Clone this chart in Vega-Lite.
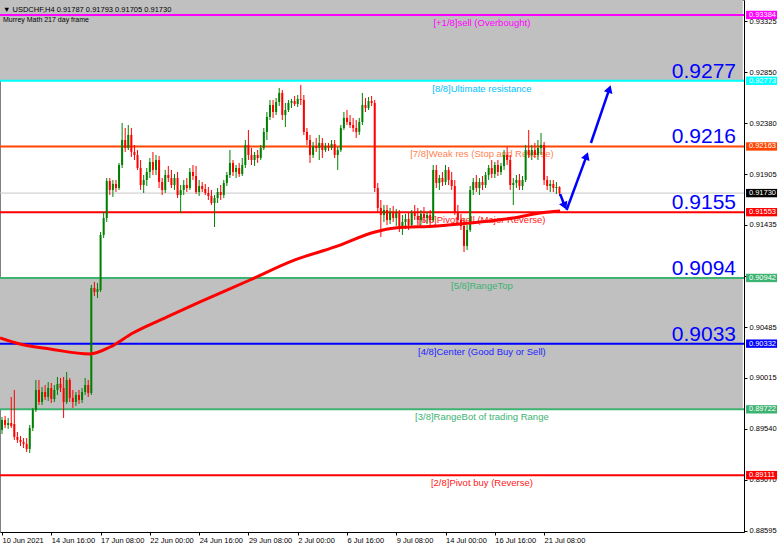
{
"$schema": "https://vega.github.io/schema/vega-lite/v6.json",
"width": 744, "height": 532, "autosize": "none", "padding": {"left": 0, "top": 0, "right": 38, "bottom": 18}, "background": "#ffffff",
"config": {"view": {"stroke": "#808080", "strokeWidth": 1}, "font": "Liberation Sans"},
"title": {"text": "▼ USDCHF,H4  0.91787 0.91793 0.91705 0.91730", "subtitle": "Murrey Math 217 day frame", "anchor": "start", "frame": "group", "orient": "top", "offset": -23, "fontSize": 7.5, "fontWeight": "normal", "color": "#000000", "subtitleFontSize": 7, "subtitleColor": "#000000", "subtitlePadding": 3, "dx": 3},
"datasets": {
"bands": [{"lo": 0.92773, "hi": 0.9353}, {"lo": 0.89722, "hi": 0.90942}],
"levels": [
{"lvl": "+1/8", "v": 0.93384, "t": "[+1/8]sell (Overbought)"},
{"lvl": "8/8", "v": 0.92773, "t": "[8/8]Ultimate resistance"},
{"lvl": "7/8", "v": 0.92163, "t": "[7/8]Weak res (Stop and Reverse)"},
{"lvl": "6/8", "v": 0.91553, "t": "[6/8]Pivot sell (Major Reverse)"},
{"lvl": "5/8", "v": 0.90942, "t": "[5/8]RangeTop"},
{"lvl": "4/8", "v": 0.90332, "t": "[4/8]Center (Good Buy or Sell)"},
{"lvl": "3/8", "v": 0.89722, "t": "[3/8]RangeBot of trading Range"},
{"lvl": "2/8", "v": 0.89111, "t": "[2/8]Pivot buy (Reverse)"},
{"lvl": "cur", "v": 0.9173, "t": ""}],
"bignums": [{"v": 0.92773, "t": "0.9277"}, {"v": 0.92163, "t": "0.9216"}, {"v": 0.91553, "t": "0.9155"}, {"v": 0.90942, "t": "0.9094"}, {"v": 0.90332, "t": "0.9033"}],
"ma": [{"i": -0.65, "p": 0.90385}, {"i": 5.8, "p": 0.90329}, {"i": 15.6, "p": 0.90282}, {"i": 28.6, "p": 0.90236}, {"i": 35.1, "p": 0.90301}, {"i": 42.5, "p": 0.90431}, {"i": 53.6, "p": 0.9058}, {"i": 64.3, "p": 0.90719}, {"i": 80.5, "p": 0.90923}, {"i": 95.1, "p": 0.91109}, {"i": 108.1, "p": 0.9123}, {"i": 121.1, "p": 0.91369}, {"i": 127.6, "p": 0.91406}, {"i": 141.2, "p": 0.91425}, {"i": 151.9, "p": 0.91453}, {"i": 165.9, "p": 0.91499}, {"i": 174.7, "p": 0.91545}, {"i": 181.2, "p": 0.91564}],
"arrows": [{"seg": 1, "i": 181.2, "p": 0.91722}, {"seg": 1, "i": 182.7, "p": 0.9161}, {"seg": 2, "i": 183.3, "p": 0.91573}, {"seg": 2, "i": 189.8, "p": 0.92075}, {"seg": 3, "i": 191.2, "p": 0.92195}, {"seg": 3, "i": 197.2, "p": 0.92697}],
"heads": [{"seg": 1, "i": 182.7, "p": 0.9161}, {"seg": 2, "i": 189.8, "p": 0.92075}, {"seg": 3, "i": 197.2, "p": 0.92697}],
"candles": [
{"i":0,"o":0.89531,"h":0.89651,"l":0.89493,"c":0.89623},
{"i":1,"o":0.89623,"h":0.89661,"l":0.89549,"c":0.89577},
{"i":2,"o":0.89577,"h":0.89642,"l":0.8954,"c":0.89595},
{"i":3,"o":0.89595,"h":0.89837,"l":0.89549,"c":0.89568},
{"i":4,"o":0.89586,"h":0.89902,"l":0.89438,"c":0.89466},
{"i":5,"o":0.89466,"h":0.89512,"l":0.8941,"c":0.89438},
{"i":6,"o":0.89438,"h":0.89475,"l":0.89382,"c":0.89419},
{"i":7,"o":0.89419,"h":0.89456,"l":0.89363,"c":0.89401},
{"i":8,"o":0.89401,"h":0.89456,"l":0.89326,"c":0.89354},
{"i":9,"o":0.89354,"h":0.89577,"l":0.89317,"c":0.89549},
{"i":10,"o":0.89549,"h":0.89735,"l":0.89521,"c":0.89716},
{"i":11,"o":0.89716,"h":0.89995,"l":0.89698,"c":0.89902},
{"i":12,"o":0.89902,"h":0.89995,"l":0.89763,"c":0.8979},
{"i":13,"o":0.8979,"h":0.8993,"l":0.89763,"c":0.89883},
{"i":14,"o":0.89883,"h":0.89948,"l":0.89809,"c":0.89837},
{"i":15,"o":0.89837,"h":0.89976,"l":0.898,"c":0.8992},
{"i":16,"o":0.8992,"h":0.89967,"l":0.89781,"c":0.89818},
{"i":17,"o":0.89818,"h":0.89948,"l":0.8979,"c":0.89902},
{"i":18,"o":0.89902,"h":0.90023,"l":0.89855,"c":0.89958},
{"i":19,"o":0.89958,"h":0.90013,"l":0.89883,"c":0.8992},
{"i":20,"o":0.8992,"h":0.90023,"l":0.89642,"c":0.8979},
{"i":21,"o":0.8979,"h":0.90069,"l":0.89772,"c":0.89995},
{"i":22,"o":0.89995,"h":0.90013,"l":0.8979,"c":0.89828},
{"i":23,"o":0.89828,"h":0.89902,"l":0.89735,"c":0.8979},
{"i":24,"o":0.8979,"h":0.89883,"l":0.89753,"c":0.89855},
{"i":25,"o":0.89855,"h":0.89902,"l":0.89772,"c":0.89809},
{"i":26,"o":0.89809,"h":0.8992,"l":0.89781,"c":0.89883},
{"i":27,"o":0.89883,"h":0.90013,"l":0.89855,"c":0.89948},
{"i":28,"o":0.89948,"h":0.89995,"l":0.89837,"c":0.89874},
{"i":29,"o":0.89874,"h":0.90877,"l":0.89855,"c":0.90849},
{"i":30,"o":0.90849,"h":0.90905,"l":0.90775,"c":0.90812},
{"i":31,"o":0.90812,"h":0.90895,"l":0.90756,"c":0.9084},
{"i":32,"o":0.9083,"h":0.91369,"l":0.90812,"c":0.91341},
{"i":33,"o":0.91341,"h":0.91555,"l":0.91313,"c":0.91499},
{"i":34,"o":0.91499,"h":0.9187,"l":0.91462,"c":0.91842},
{"i":35,"o":0.91842,"h":0.9187,"l":0.91712,"c":0.91759},
{"i":36,"o":0.91759,"h":0.91852,"l":0.91694,"c":0.91815},
{"i":37,"o":0.91815,"h":0.91852,"l":0.9174,"c":0.91777},
{"i":38,"o":0.91777,"h":0.9201,"l":0.91759,"c":0.91991},
{"i":39,"o":0.91991,"h":0.92381,"l":0.91963,"c":0.92223},
{"i":40,"o":0.92223,"h":0.92335,"l":0.92112,"c":0.92149},
{"i":41,"o":0.92149,"h":0.92362,"l":0.9213,"c":0.9227},
{"i":42,"o":0.9227,"h":0.92335,"l":0.92065,"c":0.92112},
{"i":43,"o":0.92112,"h":0.92177,"l":0.92037,"c":0.92084},
{"i":44,"o":0.92084,"h":0.9213,"l":0.91945,"c":0.91963},
{"i":45,"o":0.91963,"h":0.92037,"l":0.91759,"c":0.91805},
{"i":46,"o":0.91805,"h":0.91898,"l":0.91731,"c":0.91852},
{"i":47,"o":0.91852,"h":0.91963,"l":0.91796,"c":0.91926},
{"i":48,"o":0.91926,"h":0.92056,"l":0.9187,"c":0.92019},
{"i":49,"o":0.92019,"h":0.92112,"l":0.91898,"c":0.91945},
{"i":50,"o":0.91945,"h":0.92084,"l":0.91898,"c":0.92037},
{"i":51,"o":0.92037,"h":0.92075,"l":0.91777,"c":0.91833},
{"i":52,"o":0.91833,"h":0.9187,"l":0.91712,"c":0.91759},
{"i":53,"o":0.91759,"h":0.91945,"l":0.91731,"c":0.91898},
{"i":54,"o":0.91898,"h":0.91982,"l":0.91833,"c":0.9187},
{"i":55,"o":0.9187,"h":0.91945,"l":0.91777,"c":0.91805},
{"i":56,"o":0.91805,"h":0.91907,"l":0.91759,"c":0.9187},
{"i":57,"o":0.9187,"h":0.91926,"l":0.91684,"c":0.91712},
{"i":58,"o":0.91712,"h":0.91805,"l":0.91545,"c":0.91759},
{"i":59,"o":0.91759,"h":0.91852,"l":0.91712,"c":0.91805},
{"i":60,"o":0.91805,"h":0.9187,"l":0.9174,"c":0.91777},
{"i":61,"o":0.91777,"h":0.91963,"l":0.91759,"c":0.91926},
{"i":62,"o":0.91926,"h":0.91991,"l":0.91852,"c":0.91889},
{"i":63,"o":0.91889,"h":0.91982,"l":0.91722,"c":0.9174},
{"i":64,"o":0.9174,"h":0.91852,"l":0.91703,"c":0.91796},
{"i":65,"o":0.91796,"h":0.91833,"l":0.9174,"c":0.91768},
{"i":66,"o":0.91768,"h":0.91815,"l":0.91712,"c":0.91731},
{"i":67,"o":0.91731,"h":0.91787,"l":0.91666,"c":0.91703},
{"i":68,"o":0.91703,"h":0.91759,"l":0.9162,"c":0.91638},
{"i":69,"o":0.91638,"h":0.91712,"l":0.91415,"c":0.91684},
{"i":70,"o":0.91684,"h":0.91777,"l":0.91638,"c":0.9174},
{"i":71,"o":0.9174,"h":0.91805,"l":0.91666,"c":0.91712},
{"i":72,"o":0.91712,"h":0.91852,"l":0.91684,"c":0.91824},
{"i":73,"o":0.91824,"h":0.91926,"l":0.91796,"c":0.91898},
{"i":74,"o":0.91898,"h":0.9213,"l":0.9187,"c":0.9201},
{"i":75,"o":0.9201,"h":0.92037,"l":0.91889,"c":0.91926},
{"i":76,"o":0.91926,"h":0.91991,"l":0.9187,"c":0.91963},
{"i":77,"o":0.91963,"h":0.9201,"l":0.9188,"c":0.91907},
{"i":78,"o":0.91907,"h":0.92056,"l":0.91889,"c":0.91991},
{"i":79,"o":0.91991,"h":0.92223,"l":0.91963,"c":0.92177},
{"i":80,"o":0.92177,"h":0.92316,"l":0.92037,"c":0.92084},
{"i":81,"o":0.92084,"h":0.92149,"l":0.91991,"c":0.92037},
{"i":82,"o":0.92037,"h":0.92112,"l":0.91982,"c":0.92084},
{"i":83,"o":0.92084,"h":0.9213,"l":0.9201,"c":0.92056},
{"i":84,"o":0.92056,"h":0.92177,"l":0.92037,"c":0.92149},
{"i":85,"o":0.92149,"h":0.92335,"l":0.9213,"c":0.92298},
{"i":86,"o":0.92298,"h":0.92483,"l":0.92223,"c":0.92437},
{"i":87,"o":0.92437,"h":0.92595,"l":0.92409,"c":0.92548},
{"i":88,"o":0.92548,"h":0.92595,"l":0.92428,"c":0.92483},
{"i":89,"o":0.92483,"h":0.92613,"l":0.92455,"c":0.92576},
{"i":90,"o":0.92576,"h":0.92706,"l":0.92539,"c":0.9266},
{"i":91,"o":0.9266,"h":0.92687,"l":0.92409,"c":0.92455},
{"i":92,"o":0.92455,"h":0.92567,"l":0.92344,"c":0.92502},
{"i":93,"o":0.92502,"h":0.92595,"l":0.92483,"c":0.92567},
{"i":94,"o":0.92567,"h":0.92604,"l":0.9252,"c":0.92585},
{"i":95,"o":0.92585,"h":0.92632,"l":0.92539,"c":0.92557},
{"i":96,"o":0.92557,"h":0.92641,"l":0.92529,"c":0.92604},
{"i":97,"o":0.92604,"h":0.92734,"l":0.92548,"c":0.92595},
{"i":98,"o":0.92595,"h":0.92641,"l":0.9227,"c":0.92298},
{"i":99,"o":0.92298,"h":0.92335,"l":0.92177,"c":0.92223},
{"i":100,"o":0.92223,"h":0.9227,"l":0.9201,"c":0.92084},
{"i":101,"o":0.92084,"h":0.92205,"l":0.92056,"c":0.92168},
{"i":102,"o":0.92168,"h":0.92242,"l":0.92112,"c":0.92149},
{"i":103,"o":0.92149,"h":0.9227,"l":0.92037,"c":0.92195},
{"i":104,"o":0.92195,"h":0.92242,"l":0.92056,"c":0.9213},
{"i":105,"o":0.9213,"h":0.92195,"l":0.92112,"c":0.92168},
{"i":106,"o":0.92168,"h":0.92195,"l":0.92121,"c":0.92149},
{"i":107,"o":0.92149,"h":0.92223,"l":0.9213,"c":0.92186},
{"i":108,"o":0.92186,"h":0.92223,"l":0.92056,"c":0.92084},
{"i":109,"o":0.92084,"h":0.92158,"l":0.91945,"c":0.9213},
{"i":110,"o":0.9213,"h":0.92362,"l":0.92112,"c":0.92335},
{"i":111,"o":0.92335,"h":0.92483,"l":0.92316,"c":0.92428},
{"i":112,"o":0.92428,"h":0.92502,"l":0.92362,"c":0.9239},
{"i":113,"o":0.9239,"h":0.92455,"l":0.92335,"c":0.92362},
{"i":114,"o":0.92362,"h":0.92428,"l":0.92298,"c":0.92335},
{"i":115,"o":0.92335,"h":0.92409,"l":0.92242,"c":0.92298},
{"i":116,"o":0.92298,"h":0.92428,"l":0.9227,"c":0.9239},
{"i":117,"o":0.9239,"h":0.9266,"l":0.92362,"c":0.92548},
{"i":118,"o":0.92548,"h":0.92613,"l":0.92483,"c":0.9252},
{"i":119,"o":0.9252,"h":0.92622,"l":0.92502,"c":0.92585},
{"i":120,"o":0.92585,"h":0.92632,"l":0.92539,"c":0.92567},
{"i":121,"o":0.92567,"h":0.92595,"l":0.9174,"c":0.91777},
{"i":122,"o":0.91777,"h":0.91824,"l":0.91555,"c":0.91592},
{"i":123,"o":0.91592,"h":0.91666,"l":0.91323,"c":0.91527},
{"i":124,"o":0.91527,"h":0.9162,"l":0.91462,"c":0.91573},
{"i":125,"o":0.91573,"h":0.9162,"l":0.91434,"c":0.9148},
{"i":126,"o":0.9148,"h":0.91592,"l":0.91443,"c":0.91555},
{"i":127,"o":0.91555,"h":0.9161,"l":0.91462,"c":0.91499},
{"i":128,"o":0.91499,"h":0.91583,"l":0.91425,"c":0.91545},
{"i":129,"o":0.91545,"h":0.91573,"l":0.91369,"c":0.91425},
{"i":130,"o":0.91425,"h":0.91527,"l":0.91341,"c":0.91462},
{"i":131,"o":0.91462,"h":0.91536,"l":0.91397,"c":0.9149},
{"i":132,"o":0.9149,"h":0.91555,"l":0.91388,"c":0.91434},
{"i":133,"o":0.91434,"h":0.91573,"l":0.91406,"c":0.91545},
{"i":134,"o":0.91545,"h":0.9162,"l":0.9148,"c":0.91517},
{"i":135,"o":0.91517,"h":0.91592,"l":0.91434,"c":0.9148},
{"i":136,"o":0.9148,"h":0.91573,"l":0.91425,"c":0.91536},
{"i":137,"o":0.91536,"h":0.91601,"l":0.91462,"c":0.91499},
{"i":138,"o":0.91499,"h":0.91555,"l":0.91443,"c":0.91527},
{"i":139,"o":0.91527,"h":0.91573,"l":0.91434,"c":0.9148},
{"i":140,"o":0.9148,"h":0.91991,"l":0.91462,"c":0.91945},
{"i":141,"o":0.91945,"h":0.91991,"l":0.91777,"c":0.91824},
{"i":142,"o":0.91824,"h":0.91898,"l":0.91759,"c":0.9187},
{"i":143,"o":0.9187,"h":0.91926,"l":0.91796,"c":0.91833},
{"i":144,"o":0.91833,"h":0.91991,"l":0.91805,"c":0.91945},
{"i":145,"o":0.91945,"h":0.91972,"l":0.91805,"c":0.91852},
{"i":146,"o":0.91852,"h":0.91926,"l":0.91759,"c":0.91796},
{"i":147,"o":0.91796,"h":0.91852,"l":0.91527,"c":0.91555},
{"i":148,"o":0.91555,"h":0.9162,"l":0.91434,"c":0.9148},
{"i":149,"o":0.9148,"h":0.91536,"l":0.91388,"c":0.91425},
{"i":150,"o":0.91425,"h":0.91499,"l":0.91183,"c":0.91239},
{"i":151,"o":0.91239,"h":0.91434,"l":0.91202,"c":0.91388},
{"i":152,"o":0.91388,"h":0.91796,"l":0.91369,"c":0.91759},
{"i":153,"o":0.91759,"h":0.9187,"l":0.91712,"c":0.91833},
{"i":154,"o":0.91833,"h":0.91898,"l":0.9174,"c":0.91777},
{"i":155,"o":0.91777,"h":0.9187,"l":0.91712,"c":0.91833},
{"i":156,"o":0.91833,"h":0.91889,"l":0.91759,"c":0.91805},
{"i":157,"o":0.91805,"h":0.91926,"l":0.91777,"c":0.91898},
{"i":158,"o":0.91898,"h":0.91991,"l":0.91852,"c":0.91963},
{"i":159,"o":0.91963,"h":0.92037,"l":0.9187,"c":0.91907},
{"i":160,"o":0.91907,"h":0.92019,"l":0.9187,"c":0.91991},
{"i":161,"o":0.91991,"h":0.92037,"l":0.91889,"c":0.91926},
{"i":162,"o":0.91926,"h":0.9201,"l":0.91898,"c":0.91982},
{"i":163,"o":0.91982,"h":0.9213,"l":0.91945,"c":0.92084},
{"i":164,"o":0.92084,"h":0.92158,"l":0.91991,"c":0.92037},
{"i":165,"o":0.92037,"h":0.92084,"l":0.91759,"c":0.91805},
{"i":166,"o":0.91805,"h":0.9187,"l":0.9162,"c":0.91824},
{"i":167,"o":0.91824,"h":0.91898,"l":0.91777,"c":0.91852},
{"i":168,"o":0.91852,"h":0.91907,"l":0.91759,"c":0.91796},
{"i":169,"o":0.91796,"h":0.91889,"l":0.91759,"c":0.91852},
{"i":170,"o":0.91852,"h":0.92177,"l":0.91833,"c":0.9213},
{"i":171,"o":0.9213,"h":0.92316,"l":0.92056,"c":0.92084},
{"i":172,"o":0.92084,"h":0.92177,"l":0.92037,"c":0.9213},
{"i":173,"o":0.9213,"h":0.92195,"l":0.92056,"c":0.92084},
{"i":174,"o":0.92084,"h":0.92223,"l":0.92037,"c":0.92149},
{"i":175,"o":0.92149,"h":0.92288,"l":0.92084,"c":0.92177},
{"i":176,"o":0.92177,"h":0.92205,"l":0.91805,"c":0.91852},
{"i":177,"o":0.91852,"h":0.91889,"l":0.91759,"c":0.91796},
{"i":178,"o":0.91796,"h":0.91852,"l":0.9174,"c":0.91815},
{"i":179,"o":0.91815,"h":0.91852,"l":0.9174,"c":0.91777},
{"i":180,"o":0.91777,"h":0.91833,"l":0.91722,"c":0.91787},
{"i":181,"o":0.91787,"h":0.91793,"l":0.91705,"c":0.9173}
]},
"resolve": {"scale": {"color": "independent"}},
"layer": [
{"data": {"name": "candles"}, "mark": {"type": "rule", "strokeWidth": 1, "opacity": 0},
 "encoding": {
  "x": {"field": "i", "type": "quantitative", "scale": {"domain": [-0.65, 240.9], "nice": false, "zero": false, "padding": 0},
   "axis": {"values": [0,16,32,48,64,80,96,112,128,144,160,176], "labelExpr": "['10 Jun 2021','14 Jun 16:00','17 Jun 08:00','22 Jun 00:00','24 Jun 16:00','29 Jun 08:00','2 Jul 00:00','6 Jul 16:00','9 Jul 08:00','14 Jul 00:00','16 Jul 16:00','21 Jul 08:00'][round(datum.value/16)]", "labelAlign": "left", "labelBaseline": "top", "labelPadding": 1, "tickSize": 3, "labelFontSize": 7.5, "labelColor": "#000000", "tickColor": "#000000", "domainColor": "#000000", "grid": false, "title": null, "labelOverlap": false, "labelFlush": false}},
  "y": {"field": "l", "type": "quantitative", "scale": {"domain": [0.88583, 0.93523], "nice": false, "zero": false, "padding": 0},
   "axis": {"orient": "right", "values": [0.93325,0.93085,0.9285,0.92615,0.9238,0.92145,0.91905,0.9167,0.91435,0.91195,0.9096,0.90725,0.90485,0.9025,0.90015,0.8978,0.8954,0.89305,0.8907,0.88835,0.88595], "format": ".5f", "labelFontSize": 7.5, "labelColor": "#000000", "tickColor": "#000000", "domainColor": "#000000", "tickSize": 3, "labelPadding": 2, "grid": false, "title": null, "labelOverlap": false, "labelFlush": false}},
  "y2": {"field": "h"}}},
{"data": {"name": "bands"}, "mark": {"type": "rect", "color": "#c0c0c0", "clip": true},
 "encoding": {"x": {"datum": -0.65}, "x2": {"datum": 240.5}, "y": {"field": "lo", "type": "quantitative"}, "y2": {"field": "hi"}}},
{"data": {"name": "levels"}, "mark": {"type": "rule"},
 "encoding": {"y": {"field": "v", "type": "quantitative"},
  "strokeWidth": {"condition": {"test": "datum.lvl == 'cur'", "value": 1}, "value": 2},
  "color": {"field": "lvl", "type": "nominal", "legend": null, "scale": {"domain": ["+1/8","8/8","7/8","6/8","5/8","4/8","3/8","2/8","cur"], "range": ["#ff00ff","#00ffff","#ff4500","#ff0000","#3cb371","#0000ff","#3cb371","#ff0000","#c8c8c8"]}}}},
{"data": {"name": "levels"}, "transform": [{"filter": "datum.lvl != 'cur'"}], "mark": {"type": "text", "align": "center", "baseline": "top", "dy": 3, "fontSize": 9.5},
 "encoding": {"x": {"datum": 155.8}, "y": {"field": "v", "type": "quantitative"}, "text": {"field": "t"},
  "color": {"field": "lvl", "type": "nominal", "legend": null, "scale": {"domain": ["+1/8","8/8","7/8","6/8","5/8","4/8","3/8","2/8"], "range": ["#ff00ff","#00bfff","#ff7f50","#ff2020","#3cb371","#1e1eff","#3cb371","#ff2020"]}}}},
{"data": {"name": "candles"}, "mark": {"type": "rule", "strokeWidth": 1},
 "encoding": {"x": {"field": "i", "type": "quantitative"}, "y": {"field": "l", "type": "quantitative"}, "y2": {"field": "h"},
  "color": {"condition": {"test": "datum.c >= datum.o", "value": "#008000"}, "value": "#ff0000"}}},
{"data": {"name": "candles"}, "mark": {"type": "bar", "size": 2},
 "encoding": {"x": {"field": "i", "type": "quantitative"}, "y": {"field": "o", "type": "quantitative"}, "y2": {"field": "c"},
  "color": {"condition": {"test": "datum.c >= datum.o", "value": "#008000"}, "value": "#ff0000"}}},
{"data": {"name": "ma"}, "mark": {"type": "line", "color": "#ff0000", "strokeWidth": 3, "interpolate": "monotone"},
 "encoding": {"x": {"field": "i", "type": "quantitative"}, "y": {"field": "p", "type": "quantitative"}}},
{"data": {"name": "arrows"}, "mark": {"type": "line", "color": "#0000ff", "strokeWidth": 2.5},
 "encoding": {"x": {"field": "i", "type": "quantitative"}, "y": {"field": "p", "type": "quantitative"}, "detail": {"field": "seg"}}},
{"data": {"name": "heads"}, "transform": [{"filter": "datum.seg == 1"}], "mark": {"type": "point", "shape": "triangle-up", "size": 80, "filled": true, "opacity": 1, "color": "#0000ff", "angle": 156},
 "encoding": {"x": {"field": "i", "type": "quantitative"}, "y": {"field": "p", "type": "quantitative"}}},
{"data": {"name": "heads"}, "transform": [{"filter": "datum.seg == 2"}], "mark": {"type": "point", "shape": "triangle-up", "size": 80, "filled": true, "opacity": 1, "color": "#0000ff", "angle": 20},
 "encoding": {"x": {"field": "i", "type": "quantitative"}, "y": {"field": "p", "type": "quantitative"}}},
{"data": {"name": "heads"}, "transform": [{"filter": "datum.seg == 3"}], "mark": {"type": "point", "shape": "triangle-up", "size": 80, "filled": true, "opacity": 1, "color": "#0000ff", "angle": 19},
 "encoding": {"x": {"field": "i", "type": "quantitative"}, "y": {"field": "p", "type": "quantitative"}}},
{"data": {"name": "bignums"}, "mark": {"type": "text", "align": "right", "baseline": "alphabetic", "dy": -3, "fontSize": 21, "color": "#0000ff"},
 "encoding": {"x": {"datum": 238.3}, "y": {"field": "v", "type": "quantitative"}, "text": {"field": "t"}}},
{"data": {"name": "levels"}, "mark": {"type": "point", "shape": "M-1,-0.27H1V0.27H-1Z", "size": 961, "filled": true, "opacity": 1, "clip": false},
 "encoding": {"x": {"datum": 246.6}, "y": {"field": "v", "type": "quantitative"},
  "color": {"field": "lvl", "type": "nominal", "legend": null, "scale": {"domain": ["+1/8","8/8","7/8","6/8","5/8","4/8","3/8","2/8","cur"], "range": ["#ff00ff","#00ffff","#ff4500","#ff0000","#3cb371","#0000ff","#3cb371","#ff0000","#000000"]}}}},
{"data": {"name": "levels"}, "mark": {"type": "text", "align": "left", "baseline": "middle", "fontSize": 7.5, "color": "#ffffff", "clip": false},
 "encoding": {"x": {"datum": 242.5}, "y": {"field": "v", "type": "quantitative"}, "text": {"field": "v", "type": "quantitative", "format": ".5f"}}}
]
}
